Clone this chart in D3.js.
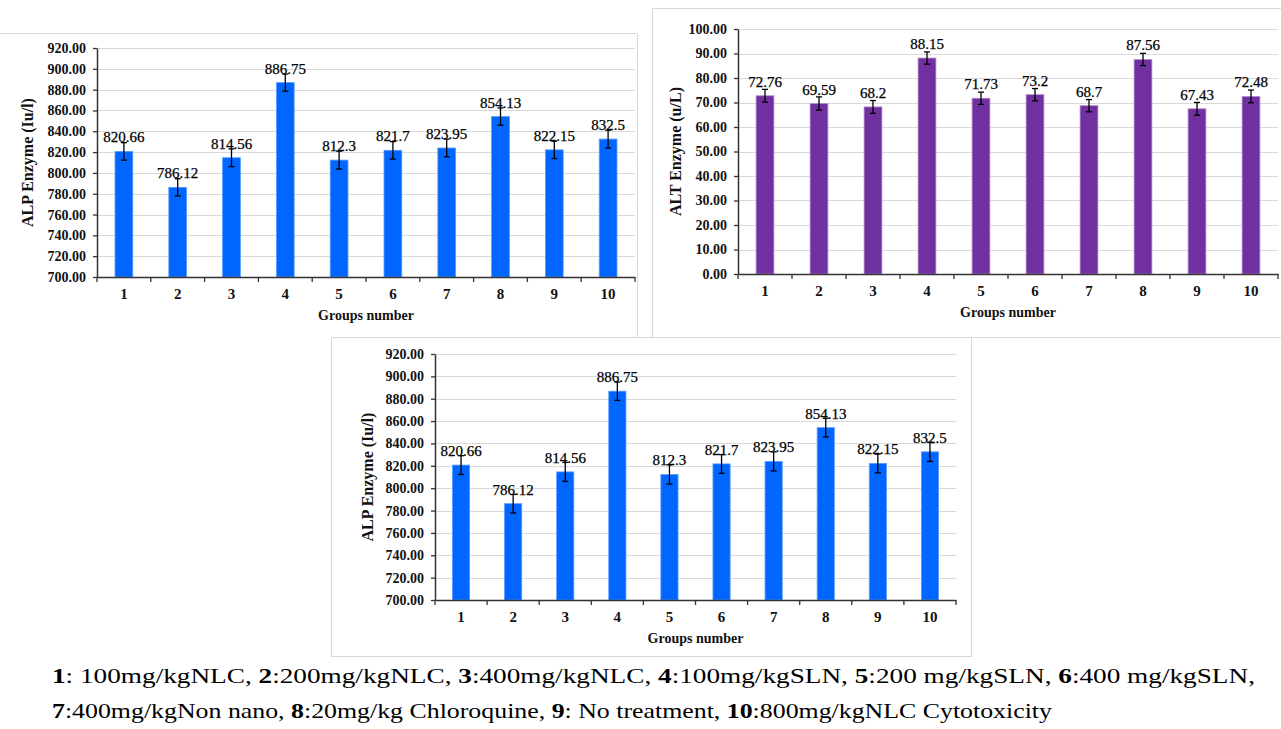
<!DOCTYPE html>
<html>
<head>
<meta charset="utf-8">
<script src="https://cdn.jsdelivr.net/npm/d3@7"></script>
<style>
  body { margin: 0; background: #fff; }
  svg { display: block; font-family: "Liberation Serif", "Times New Roman", serif; }
</style>
</head>
<body>
<div id="chart"></div>
<script>
const groups = ["1", "2", "3", "4", "5", "6", "7", "8", "9", "10"];
const alpValues = [820.66, 786.12, 814.56, 886.75, 812.3, 821.7, 823.95, 854.13, 822.15, 832.5];
const alpErrors = [8.4, 8.3, 8.5, 8.2, 8.6, 8.4, 8.5, 8.3, 8.4, 8.6];
const altValues = [72.76, 69.59, 68.2, 88.15, 71.73, 73.2, 68.7, 87.56, 67.43, 72.48];
const altErrors = [2.6, 2.7, 2.6, 2.5, 2.5, 2.5, 2.5, 2.5, 2.6, 2.6];
const alpTicks = [700, 720, 740, 760, 780, 800, 820, 840, 860, 880, 900, 920];
const altTicks = [0, 10, 20, 30, 40, 50, 60, 70, 80, 90, 100];
const captionLine1 = [["1", ": 100mg/kgNLC, "], ["2", ":200mg/kgNLC, "], ["3", ":400mg/kgNLC, "],
  ["4", ":100mg/kgSLN, "], ["5", ":200 mg/kgSLN, "], ["6", ":400 mg/kgSLN,"]];
const captionLine2 = [["7", ":400mg/kgNon nano, "], ["8", ":20mg/kg Chloroquine, "],
  ["9", ": No treatment, "], ["10", ":800mg/kgNLC Cytotoxicity"]];

const width = 1281;
const height = 729;

const svg = d3.select("#chart").append("svg")
  .attr("width", width)
  .attr("height", height);

// panel frames (drawn first, later panels cover earlier ones)
function frame(x, y, w, h) {
  svg.append("rect")
    .attr("x", x + 0.5).attr("y", y + 0.5)
    .attr("width", w).attr("height", h)
    .attr("fill", "#fff")
    .attr("stroke", "#d9d9d9");
}

function drawPanel(p) {
  const g = svg.append("g");

  const x = d3.scaleBand().domain(groups).range([p.left, p.right]);
  const y = d3.scaleLinear().domain([p.ticks[0], p.ticks[p.ticks.length - 1]]).range([p.bottom, p.top]);
  const bw = x.bandwidth() * 0.33;

  // gridlines
  g.selectAll(".grid").data(p.ticks.slice(1)).enter().append("line")
    .attr("x1", p.left).attr("x2", p.right)
    .attr("y1", (d) => Math.round(y(d)) + 0.5).attr("y2", (d) => Math.round(y(d)) + 0.5)
    .attr("stroke", "#d9d9d9").attr("stroke-width", 1.2);

  // bars
  g.selectAll(".bar").data(p.values).enter().append("rect")
    .attr("x", (d, i) => x(groups[i]) + (x.bandwidth() - bw) / 2)
    .attr("y", (d) => y(d))
    .attr("width", bw)
    .attr("height", (d) => p.bottom - y(d))
    .attr("fill", p.color)
    .attr("stroke", p.edge)
    .attr("stroke-width", 0.8);

  // error bars
  const eb = g.selectAll(".err").data(p.values).enter().append("g")
    .attr("transform", (d, i) => `translate(${x(groups[i]) + x.bandwidth() / 2},0)`);
  eb.append("line")
    .attr("y1", (d, i) => y(d - p.errors[i])).attr("y2", (d, i) => y(d + p.errors[i]))
    .attr("stroke", "#000").attr("stroke-width", 1.3);
  eb.append("line")
    .attr("x1", -3).attr("x2", 3)
    .attr("y1", (d, i) => y(d - p.errors[i])).attr("y2", (d, i) => y(d - p.errors[i]))
    .attr("stroke", "#000").attr("stroke-width", 1.3);
  eb.append("line")
    .attr("x1", -3).attr("x2", 3)
    .attr("y1", (d, i) => y(d + p.errors[i])).attr("y2", (d, i) => y(d + p.errors[i]))
    .attr("stroke", "#000").attr("stroke-width", 1.3);

  // value labels
  g.selectAll(".lbl").data(p.values).enter().append("text")
    .attr("x", (d, i) => x(groups[i]) + x.bandwidth() / 2)
    .attr("y", (d) => y(d) - 9)
    .attr("text-anchor", "middle")
    .style("font-size", "15px")
    .attr("fill", "#000")
    .attr("stroke", "#000").attr("stroke-width", 0.25)
    .text((d) => String(d));

  // y axis
  const gY = g.append("g").attr("transform", `translate(${p.left},0)`)
    .call(d3.axisLeft(y).tickValues(p.ticks).tickFormat(d3.format(".2f")).tickSize(4).tickSizeOuter(0).tickPadding(7));
  gY.select(".domain").attr("stroke", "#333").attr("stroke-width", 1.5);
  gY.selectAll(".tick line").attr("stroke", "#333").attr("stroke-width", 1.3);
  gY.selectAll("text").style("font-size", "14px").style("font-weight", "bold")
    .style("font-family", "'Liberation Serif', serif").attr("fill", "#111");

  // x axis
  const gX = g.append("g").attr("transform", `translate(0,${p.bottom})`)
    .call(d3.axisBottom(x).tickSize(0).tickSizeOuter(0).tickPadding(11));
  gX.select(".domain").attr("stroke", "#333").attr("stroke-width", 1.5);
  gX.selectAll("text").style("font-size", "15px").style("font-weight", "bold")
    .style("font-family", "'Liberation Serif', serif").attr("fill", "#111");
  // tick marks between categories
  gX.selectAll(".sep").data(groups.concat(["end"])).enter().append("line")
    .attr("x1", (d) => (d === "end" ? p.right : x(d)))
    .attr("x2", (d) => (d === "end" ? p.right : x(d)))
    .attr("y1", 0).attr("y2", 5)
    .attr("stroke", "#333").attr("stroke-width", 1.3);

  // axis titles
  g.append("text")
    .attr("x", (p.left + p.right) / 2)
    .attr("y", p.bottom + 43)
    .attr("text-anchor", "middle")
    .style("font-size", "14px").style("font-weight", "bold")
    .attr("fill", "#111")
    .text("Groups number");

  g.append("text")
    .attr("transform", `translate(${p.titleX},${(p.top + p.bottom) / 2}) rotate(-90)`)
    .attr("text-anchor", "middle")
    .attr("dy", "0.35em")
    .style("font-size", "16px").style("font-weight", "bold")
    .attr("fill", "#111")
    .text(p.title);
}

// top-left panel frame: only top and right edges show
svg.append("path")
  .attr("d", "M0,33.5 H637.5 V337")
  .attr("fill", "none").attr("stroke", "#d9d9d9");
drawPanel({
  left: 97, right: 635, top: 48, bottom: 277,
  values: alpValues, errors: alpErrors, ticks: alpTicks,
  color: "#0066ff", edge: "#5b9bff", title: "ALP Enzyme (Iu/l)", titleX: 27
});

frame(652, 8, 640, 329);
drawPanel({
  left: 738, right: 1278, top: 29, bottom: 274,
  values: altValues, errors: altErrors, ticks: altTicks,
  color: "#7030a0", edge: "#b48fd0", title: "ALT Enzyme (u/L)", titleX: 675
});

frame(331, 337, 640, 319);
drawPanel({
  left: 435, right: 956, top: 354, bottom: 600,
  values: alpValues, errors: alpErrors, ticks: alpTicks,
  color: "#0066ff", edge: "#5b9bff", title: "ALP Enzyme (Iu/l)", titleX: 367
});

// caption
function captionLine(items, yPos, len) {
  const t = svg.append("text")
    .attr("x", 52).attr("y", yPos)
    .attr("textLength", len)
    .attr("lengthAdjust", "spacingAndGlyphs")
    .style("font-size", "21px")
    .attr("fill", "#000");
  items.forEach(([num, rest]) => {
    t.append("tspan").style("font-weight", "bold").text(num);
    t.append("tspan").text(rest);
  });
}
captionLine(captionLine1, 683, 1203);
captionLine(captionLine2, 718, 1000);
</script>
</body>
</html>
